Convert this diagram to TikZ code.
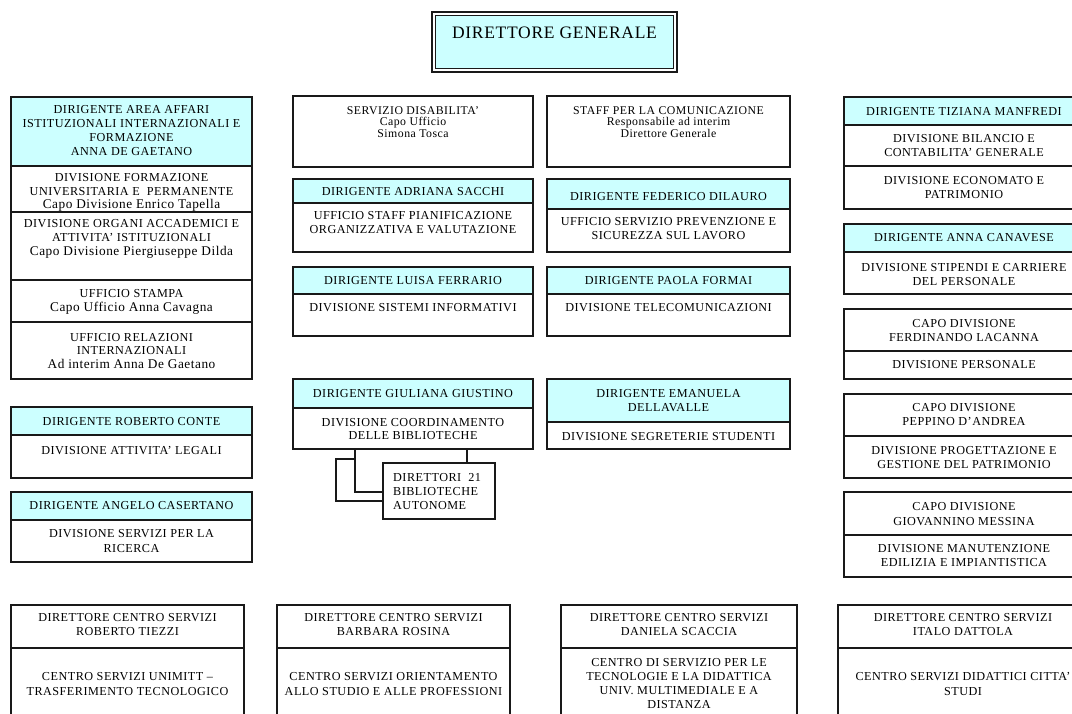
\documentclass[tikz,border=0pt]{standalone}
\usepackage{fontspec}
\setmainfont{Liberation Serif}[LetterSpace=4]
\usetikzlibrary{calc}
\definecolor{hd}{RGB}{204,255,255}
\definecolor{ln}{RGB}{25,25,25}
\tikzset{
  cellst/.style={draw=ln, line width=1.5pt, inner sep=0pt, outer sep=0pt, rectangle},
  tx/.style={align=center, inner sep=0pt, text=black, font=\fontsize{12.2}{14.3}\selectfont},
  tm/.style={align=center, inner sep=0pt, text=black, font=\fontsize{12.2}{13.8}\selectfont},
  ts/.style={align=center, inner sep=0pt, text=black, font=\fontsize{11.8}{11.8}\selectfont},
  tt/.style={align=center, inner sep=0pt, text=black, font=\fontsize{17.5}{20}\selectfont},
  conn/.style={draw=ln, line width=1.5pt},
}
\newcommand{\cellbox}[6]{\node[cellst, fill=#6, minimum width={#4-#2}, minimum height={#5-#3}] (#1) at ({(#2+#4)/2},{(#3+#5)/2}) {};}
\newcommand{\mc}[1]{{\fontsize{13.3}{13.8}\selectfont #1}}
\begin{document}
\begin{tikzpicture}[x=1pt,y=-1pt]
\useasboundingbox (0,0) rectangle (1072,713);
\clip (0,0) rectangle (1072,713);
% top
\node[cellst, fill=white, line width=1.9pt, minimum width=245, minimum height=60] (dg) at (554.5,42) {};
\draw[line width=0.8pt, draw=ln, fill=hd] ($(dg.north west)+(3.5,3.5)$) rectangle ($(dg.south east)+(-3.5,-3.5)$);
\node[tt] (dgt) at (554.5,33) {DIRETTORE GENERALE};
% left column
\cellbox{a1}{11}{97}{252}{166}{hd}
\cellbox{a2}{11}{166}{252}{212}{white}
\cellbox{a3}{11}{212}{252}{280}{white}
\cellbox{a4}{11}{280}{252}{322}{white}
\cellbox{a5}{11}{322}{252}{379}{white}
\node[tx] (a1t) at (131.5,130.5) {DIRIGENTE AREA AFFARI\\ISTITUZIONALI INTERNAZIONALI E\\FORMAZIONE\\ANNA DE GAETANO};
\node[tm] (a2t) at (131.5,192.5) {DIVISIONE FORMAZIONE\\UNIVERSITARIA E~~PERMANENTE\\\mc{Capo Divisione Enrico Tapella}};
\node[tm] (a3t) at (131.5,239) {DIVISIONE ORGANI ACCADEMICI E\\ATTIVITA’ ISTITUZIONALI\\\mc{Capo Divisione Piergiuseppe Dilda}};
\node[tm] (a4t) at (131.5,302) {UFFICIO STAMPA\\\mc{Capo Ufficio Anna Cavagna}};
\node[tm] (a5t) at (131.5,351) {UFFICIO RELAZIONI\\INTERNAZIONALI\\\mc{Ad interim Anna De Gaetano}};
\cellbox{b1}{11}{407}{252}{435}{hd}
\cellbox{b2}{11}{435}{252}{478}{white}
\node[tx] (b1t) at (131.5,421.5) {DIRIGENTE ROBERTO CONTE};
\node[tx] (b2t) at (131.5,451) {DIVISIONE ATTIVITA’ LEGALI};
\cellbox{c1}{11}{492}{252}{520}{hd}
\cellbox{c2}{11}{520}{252}{562}{white}
\node[tx] (c1t) at (131.5,506) {DIRIGENTE ANGELO CASERTANO};
\node[tx] (c2t) at (131.5,541) {DIVISIONE SERVIZI PER LA\\RICERCA};
% center left
\cellbox{d1}{293}{96}{533}{167}{white}
\node[ts] (d1t) at (413,122) {SERVIZIO DISABILITA’\\Capo Ufficio\\Simona Tosca};
\cellbox{e1}{293}{179}{533}{203}{hd}
\cellbox{e2}{293}{203}{533}{252}{white}
\node[tx] (e1t) at (413,191.5) {DIRIGENTE ADRIANA SACCHI};
\node[tm] (e2t) at (413,222.5) {UFFICIO STAFF PIANIFICAZIONE\\ORGANIZZATIVA E VALUTAZIONE};
\cellbox{f1}{293}{267}{533}{294}{hd}
\cellbox{f2}{293}{294}{533}{336}{white}
\node[tx] (f1t) at (413,281) {DIRIGENTE LUISA FERRARIO};
\node[tx] (f2t) at (413,308) {DIVISIONE SISTEMI INFORMATIVI};
\cellbox{g1}{293}{379}{533}{408}{hd}
\cellbox{g2}{293}{408}{533}{449}{white}
\node[tx] (g1t) at (413,393.5) {DIRIGENTE GIULIANA GIUSTINO};
\node[tm] (g2t) at (413,429) {DIVISIONE COORDINAMENTO\\DELLE BIBLIOTECHE};
\cellbox{h1}{383}{463}{495}{519}{white}
\node[tm, align=left, anchor=west] (h1t) at (393,491.5) {DIRETTORI~~21\\BIBLIOTECHE\\AUTONOME};
% connectors
\coordinate (q1) at (467,0);
\coordinate (q2) at (355,492);
\coordinate (q3) at (336,459);
\coordinate (q4) at (336,501);
\draw[conn] (q1 |- g2.south) -- (q1 |- h1.north);
\draw[conn] (q2 |- g2.south) -- (q2) -- (q2 -| h1.west);
\draw[conn] (q3 -| q2) -- (q3) -- (q4) -- (q4 -| h1.west);
% center right
\cellbox{i1}{547}{96}{790}{167}{white}
\node[ts] (i1t) at (668.5,122) {STAFF PER LA COMUNICAZIONE\\Responsabile ad interim\\Direttore Generale};
\cellbox{j1}{547}{179}{790}{209}{hd}
\cellbox{j2}{547}{209}{790}{252}{white}
\node[tx] (j1t) at (668.5,196.5) {DIRIGENTE FEDERICO DILAURO};
\node[tm] (j2t) at (668.5,228.5) {UFFICIO SERVIZIO PREVENZIONE E\\SICUREZZA SUL LAVORO};
\cellbox{k1}{547}{267}{790}{294}{hd}
\cellbox{k2}{547}{294}{790}{336}{white}
\node[tx] (k1t) at (668.5,281) {DIRIGENTE PAOLA FORMAI};
\node[tx] (k2t) at (668.5,308) {DIVISIONE TELECOMUNICAZIONI};
\cellbox{l1}{547}{379}{790}{422}{hd}
\cellbox{l2}{547}{422}{790}{449}{white}
\node[tx] (l1t) at (668.5,400.5) {DIRIGENTE EMANUELA\\DELLAVALLE};
\node[tx] (l2t) at (668.5,437) {DIVISIONE SEGRETERIE STUDENTI};
% right column
\cellbox{m1}{844}{97}{1084}{125}{hd}
\cellbox{m2}{844}{125}{1084}{166}{white}
\cellbox{m3}{844}{166}{1084}{209}{white}
\node[tx] (m1t) at (964,111.5) {DIRIGENTE TIZIANA MANFREDI};
\node[tx] (m2t) at (964,145.5) {DIVISIONE BILANCIO E\\CONTABILITA’ GENERALE};
\node[tx] (m3t) at (964,187.5) {DIVISIONE ECONOMATO E\\PATRIMONIO};
\cellbox{n1}{844}{224}{1084}{252}{hd}
\cellbox{n2}{844}{252}{1084}{294}{white}
\node[tx] (n1t) at (964,238) {DIRIGENTE ANNA CANAVESE};
\node[tx] (n2t) at (964,274.5) {DIVISIONE STIPENDI E CARRIERE\\DEL PERSONALE};
\cellbox{o1}{844}{309}{1084}{351}{white}
\cellbox{o2}{844}{351}{1084}{379}{white}
\node[tx] (o1t) at (964,330.5) {CAPO DIVISIONE\\FERDINANDO LACANNA};
\node[tx] (o2t) at (964,365) {DIVISIONE PERSONALE};
\cellbox{p1}{844}{394}{1084}{436}{white}
\cellbox{p2}{844}{436}{1084}{478}{white}
\node[tx] (p1t) at (964,414.5) {CAPO DIVISIONE\\PEPPINO D’ANDREA};
\node[tx] (p2t) at (964,457.5) {DIVISIONE PROGETTAZIONE E\\GESTIONE DEL PATRIMONIO};
\cellbox{s1}{844}{492}{1084}{535}{white}
\cellbox{s2}{844}{535}{1084}{577}{white}
\node[tx] (s1t) at (964,514) {CAPO DIVISIONE\\GIOVANNINO MESSINA};
\node[tx] (s2t) at (964,555.5) {DIVISIONE MANUTENZIONE\\EDILIZIA E IMPIANTISTICA};
% bottom row
\cellbox{r1}{11}{605}{244}{648}{white}
\cellbox{r1b}{11}{648}{244}{740}{white}
\node[tx] (r1t) at (127.5,624.5) {DIRETTORE CENTRO SERVIZI\\ROBERTO TIEZZI};
\node[tx] (r1bt) at (127.5,684) {CENTRO SERVIZI UNIMITT –\\TRASFERIMENTO TECNOLOGICO};
\cellbox{r2}{277}{605}{510}{648}{white}
\cellbox{r2b}{277}{648}{510}{740}{white}
\node[tx] (r2t) at (393.5,624.5) {DIRETTORE CENTRO SERVIZI\\BARBARA ROSINA};
\node[tx] (r2bt) at (393.5,684) {CENTRO SERVIZI ORIENTAMENTO\\ALLO STUDIO E ALLE PROFESSIONI};
\cellbox{r3}{561}{605}{797}{648}{white}
\cellbox{r3b}{561}{648}{797}{740}{white}
\node[tx] (r3t) at (679,624.5) {DIRETTORE CENTRO SERVIZI\\DANIELA SCACCIA};
\node[tm] (r3bt) at (679,683.5) {CENTRO DI SERVIZIO PER LE\\TECNOLOGIE E LA DIDATTICA\\UNIV. MULTIMEDIALE E A\\DISTANZA};
\cellbox{r4}{838}{605}{1088}{648}{white}
\cellbox{r4b}{838}{648}{1088}{740}{white}
\node[tx] (r4t) at (963,624.5) {DIRETTORE CENTRO SERVIZI\\ITALO DATTOLA};
\node[tx] (r4bt) at (963,684) {CENTRO SERVIZI DIDATTICI CITTA’\\STUDI};
\end{tikzpicture}
\end{document}
